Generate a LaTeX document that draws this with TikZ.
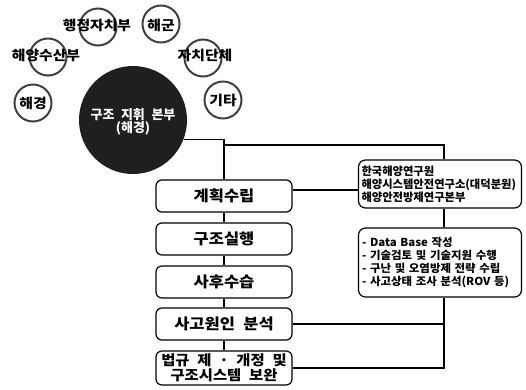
\documentclass[tikz,border=0pt]{standalone}
\usepackage{fontspec}
\setmainfont{Noto Sans CJK KR}
\newfontfamily\krw{Noto Sans CJK KR}[WordSpace=2.2]
\newfontfamily\krs{Noto Sans CJK KR}[WordSpace=2.2, FakeStretch=1.1]
\newfontfamily\krl{Noto Sans CJK KR}[WordSpace=1.7, FakeStretch=1.04]
\begin{document}
\begin{tikzpicture}[x=1pt,y=-1pt,
  ring/.style={circle, draw=black!75, line width=2pt, minimum size=37pt, inner sep=0pt},
  lbl/.style={font=\krs\bfseries\fontsize{13.5}{15}\selectfont, inner sep=0pt},
  hqc/.style={circle, fill=black!88, minimum size=108pt, inner sep=0pt},
  hqt/.style={text=white, font=\krw\bfseries\fontsize{13}{13.5}\selectfont, align=center, inner sep=0pt},
  stepbox/.style={draw, rounded corners=6pt, line width=1.2pt, minimum width=136pt, minimum height=32pt, inner sep=1pt, font=\krs\bfseries\fontsize{15}{15}\selectfont, align=center},
  infobox/.style={draw, rounded corners=7pt, line width=1.2pt, minimum width=163pt, text width=157pt, inner sep=3pt, align=left, font=\bfseries\fontsize{11.3}{13}\selectfont},
  conn/.style={line width=1.7pt}]
\useasboundingbox (0,0) rectangle (526,389);

% organisations around the headquarters
\node[ring] (c1) at (98,27) {};
\node[ring] (c2) at (161,24) {};
\node[ring] (c3) at (48,57) {};
\node[ring] (c4) at (203,58) {};
\node[ring] (c5) at (33,103) {};
\node[ring] (c6) at (223,100) {};
\node[lbl] (t1) at (97,25) {행정자치부};
\node[lbl] (t2) at (161,25) {해군};
\node[lbl] (t3) at (46,55) {해양수산부};
\node[lbl] (t4) at (205,55) {자치단체};
\node[lbl] (t5) at (33,103) {해경};
\node[lbl] (t6) at (223,100) {기타};

% headquarters
\node[hqc] (hq) at (133,120) {};
\node[hqt] (hqtext) at (133,122) {구조 지휘 본부\\(해경)};

% left column steps
\node[stepbox] (b1) at (224,196) {계획수립};
\node[stepbox] (b2) at (224,239) {구조실행};
\node[stepbox] (b3) at (224,282) {사후수습};
\node[stepbox] (b4) at (224,324) {사고원인 분석};
\node[stepbox, minimum height=34pt, font=\krs\bfseries\fontsize{14}{14.5}\selectfont] (b5) at (224,368) {법규 제 · 개정 및\\구조시스템 보완};

% right column
\node[infobox, minimum height=48pt] (inst) at (440,184) {한국해양연구원\\해양시스템안전연구소(대덕분원)\\해양안전방제연구본부};
\node[infobox, minimum height=69pt, text width=156pt, inner sep=3.5pt, font=\krl\bfseries\fontsize{11}{12.8}\selectfont] (list) at (440,262.5) {- Data Base 작성\\- 기술검토 및 기술지원 수행\\- 구난 및 오염방제 전략 수립\\- 사고상태 조사 분석(ROV 등)};

% helper coordinates
\coordinate (vx) at (444,0);
\coordinate (jy) at (0,145);
\coordinate (ky) at (0,190);

% connectors
\draw[conn] (hq.-21) -- (hq.-21 -| b1.north) -- (b1.north);
\draw[conn] (b1.north |- jy) -- (vx |- jy) -- (inst.north -| vx);
\draw[conn] (b1.south) -- (b2.north);
\draw[conn] (b2.south) -- (b3.north);
\draw[conn] (b3.south) -- (b4.north);
\draw[conn] (b4.south) -- (b5.north);
\draw[conn] (b1.east |- ky) -- (inst.west |- ky);
\draw[conn] (inst.south -| vx) -- (list.north -| vx);
\draw[conn] (list.south -| vx) -- (vx |- b5.east) -- (b5.east);
\draw[conn] (b4.east) -- (vx |- b4.east);
\end{tikzpicture}
\end{document}
